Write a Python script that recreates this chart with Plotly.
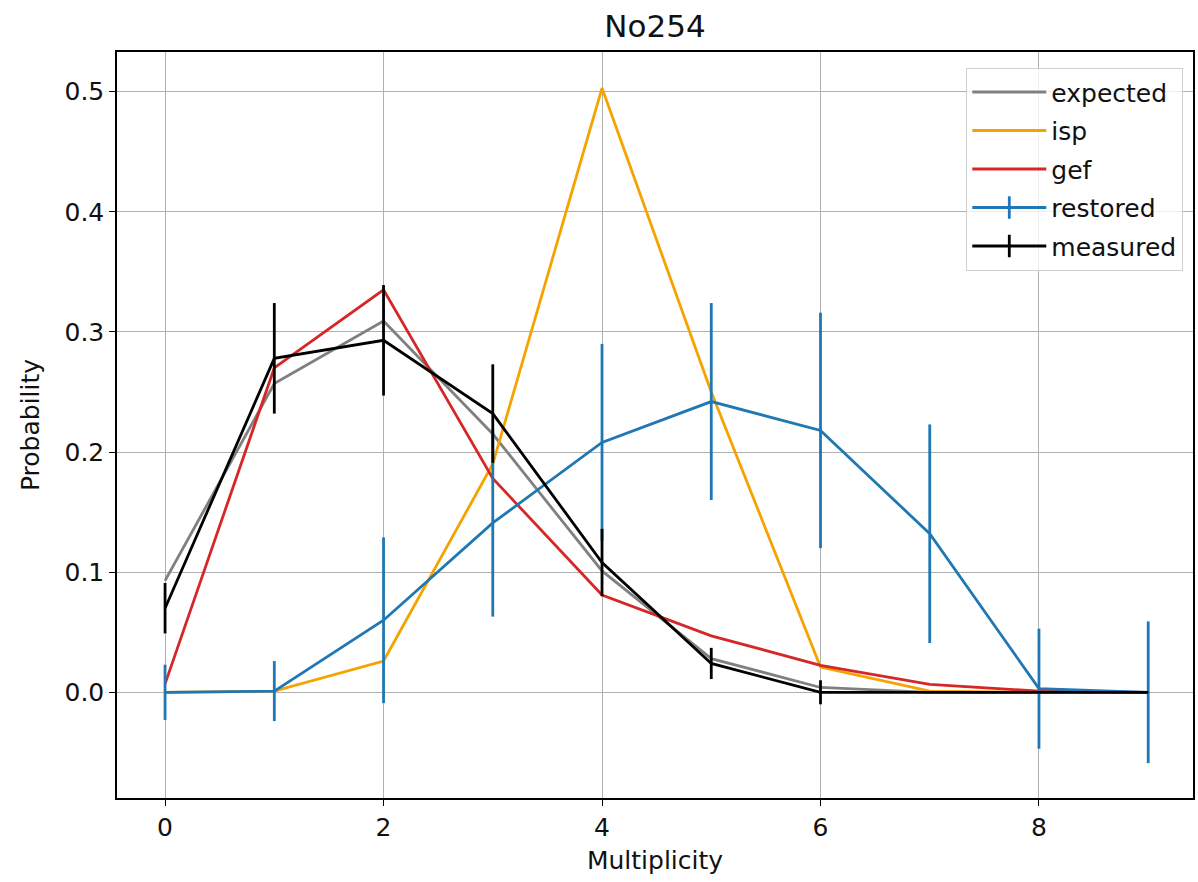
import plotly.graph_objects as go

# Multiplicity distributions for sample No254
multiplicity = [0, 1, 2, 3, 4, 5, 6, 7, 8, 9]

expected = [0.093, 0.257, 0.309, 0.215, 0.101, 0.028, 0.004, 0.0, 0.0, 0.0]
isp = [0.0, 0.001, 0.026, 0.19, 0.503, 0.25, 0.021, 0.001, 0.0, 0.0]
gef = [0.007, 0.27, 0.335, 0.178, 0.081, 0.047, 0.0225, 0.0065, 0.001, 0.0]

restored = [0.0, 0.001, 0.06, 0.141, 0.208, 0.242, 0.218, 0.132, 0.003, 0.0]
restored_err = [0.023, 0.025, 0.069, 0.078, 0.082, 0.082, 0.098, 0.091, 0.05, 0.059]

measured = [0.07, 0.278, 0.293, 0.232, 0.108, 0.024, 0.0, 0.0, 0.0, 0.0]
measured_err = [0.021, 0.046, 0.046, 0.041, 0.028, 0.013, 0.01, 0.0, 0.0, 0.0]

x_ticks = [0, 2, 4, 6, 8]
y_ticks = [0.0, 0.1, 0.2, 0.3, 0.4, 0.5]

LW = 2.8
FONT = "DejaVu Sans"
GRAY = "#808080"
ORANGE = "#f5a300"
RED = "#d62728"
BLUE = "#1f77b4"

fig = go.Figure()

# plain curves
fig.add_trace(go.Scatter(x=multiplicity, y=expected, mode="lines", name="expected",
                         legendgroup="a", line=dict(color=GRAY, width=LW)))
fig.add_trace(go.Scatter(x=multiplicity, y=isp, mode="lines", name="isp",
                         legendgroup="b", line=dict(color=ORANGE, width=LW)))
fig.add_trace(go.Scatter(x=multiplicity, y=gef, mode="lines", name="gef",
                         legendgroup="c", line=dict(color=RED, width=LW)))

# curves with error bars; their legend entries show a cross (line + bar)
for name, ys, errs, color, grp in [
    ("restored", restored, restored_err, BLUE, "d"),
    ("measured", measured, measured_err, "black", "e"),
]:
    fig.add_trace(go.Scatter(x=multiplicity, y=ys, mode="lines", name=name,
                             legendgroup=grp, showlegend=False,
                             line=dict(color=color, width=LW),
                             error_y=dict(type="data", array=errs, width=0,
                                          thickness=LW, color=color)))
    fig.add_trace(go.Scatter(x=[None], y=[None], mode="lines+markers", name=name,
                             legendgroup=grp, showlegend=True,
                             line=dict(color=color, width=LW),
                             marker=dict(symbol="line-ns", size=16,
                                         line=dict(color=color, width=LW))))

axis_common = dict(
    showgrid=True, gridcolor="#b0b0b0", gridwidth=1.3,
    showline=True, linecolor="black", linewidth=1.5, mirror=True,
    ticks="outside", ticklen=6, tickwidth=1.3, tickcolor="black",
    zeroline=False,
    tickfont=dict(family=FONT, size=25, color="#111111"),
)

fig.update_layout(
    width=1198, height=882,
    margin=dict(l=117, r=3, t=52, b=84),
    paper_bgcolor="white", plot_bgcolor="white",
    title=dict(text="No254", xref="paper", x=0.5, xanchor="center",
               y=0.970, yanchor="middle",
               font=dict(family=FONT, size=31, color="#111111")),
    xaxis=dict(axis_common, range=[-0.44, 9.41], tickvals=x_ticks,
               title=dict(text="Multiplicity", font=dict(family=FONT, size=25, color="#111111"),
                          standoff=11)),
    yaxis=dict(axis_common, range=[-0.088, 0.533], tickvals=y_ticks,
               tickformat=".1f",
               title=dict(text="Probability", font=dict(family=FONT, size=25, color="#111111"),
                          standoff=18)),
    legend=dict(x=0.9907, y=0.9786, xanchor="right", yanchor="top",
                bgcolor="rgba(255,255,255,0.8)", bordercolor="#d0d0d0", borderwidth=1.3,
                font=dict(family=FONT, size=25, color="#111111"),
                tracegroupgap=3, itemwidth=74),
    showlegend=True,
)

fig.write_html("out.html")
